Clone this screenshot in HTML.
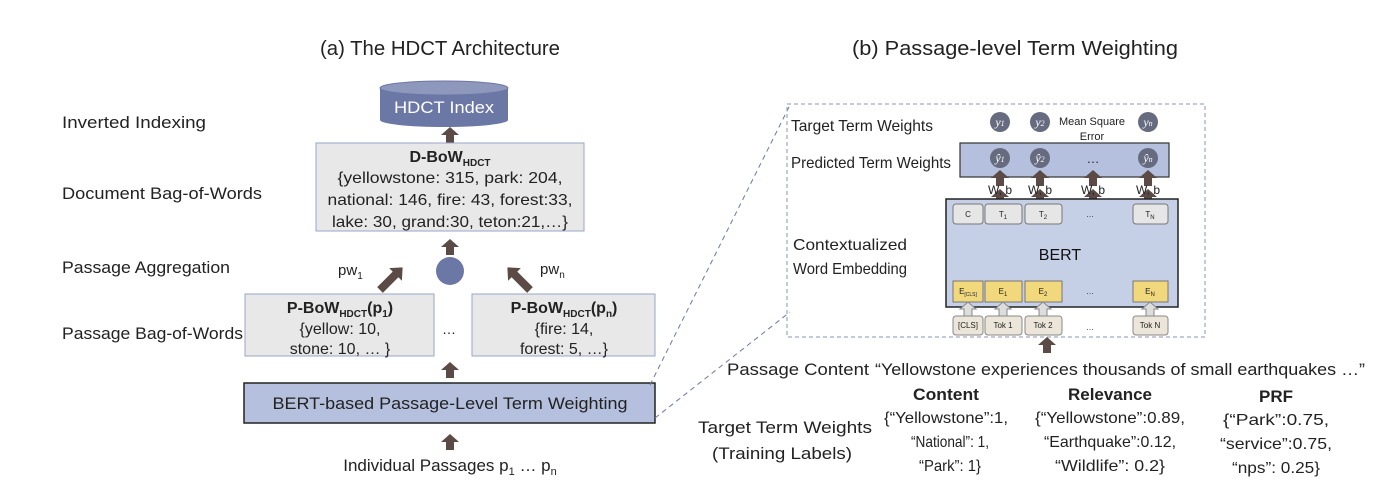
<!DOCTYPE html>
<html><head><meta charset="utf-8"><style>
html,body{margin:0;padding:0;background:#fff;}
svg{display:block;font-family:"Liberation Sans",sans-serif;}
</style></head><body>
<svg width="1400" height="495" viewBox="0 0 1400 495" xmlns="http://www.w3.org/2000/svg">
<defs>
<g id="up"><polygon points="-4,0 4,0 4,-8 9,-8 0,-16 -9,-8 -4,-8" fill="#5b4a45"/></g>
<g id="upw"><polygon points="-4,0 4,0 4,-7 8,-7 0,-14 -8,-7 -4,-7" fill="#ddd" stroke="#888" stroke-width="1"/></g>
</defs>
<!-- Titles -->
<text x="440" y="55" font-size="20" text-anchor="middle" fill="#222" textLength="240" lengthAdjust="spacingAndGlyphs">(a) The HDCT Architecture</text>
<text x="1015" y="55" font-size="20" text-anchor="middle" fill="#222" textLength="326" lengthAdjust="spacingAndGlyphs">(b) Passage-level Term Weighting</text>
<!-- left labels -->
<g font-size="17" fill="#222">
<text x="62" y="128" textLength="144" lengthAdjust="spacingAndGlyphs">Inverted Indexing</text>
<text x="62" y="199" textLength="200" lengthAdjust="spacingAndGlyphs">Document Bag-of-Words</text>
<text x="62" y="273" textLength="168" lengthAdjust="spacingAndGlyphs">Passage Aggregation</text>
<text x="62" y="339" textLength="181" lengthAdjust="spacingAndGlyphs">Passage Bag-of-Words</text>
</g>
<!-- cylinder -->
<path d="M380,88 L380,120 A64,7 0 0 0 508,120 L508,88 Z" fill="#6b77a5"/>
<ellipse cx="444" cy="88" rx="64" ry="7" fill="#8e98bd" stroke="#6b77a5"/>
<text x="444" y="113" font-size="17" fill="#fff" text-anchor="middle" textLength="100" lengthAdjust="spacingAndGlyphs">HDCT Index</text>
<use href="#up" x="450" y="143"/>
<!-- D-BoW -->
<rect x="316" y="143" width="268" height="88" fill="#e8e8e8" stroke="#99a6c9"/>
<text x="450" y="162" font-size="16" font-weight="bold" text-anchor="middle" fill="#222">D-BoW<tspan font-size="10" dy="4">HDCT</tspan></text>
<g font-size="16" fill="#222" text-anchor="middle">
<text x="450" y="183" textLength="225" lengthAdjust="spacingAndGlyphs">{yellowstone: 315, park: 204,</text>
<text x="450" y="205" textLength="245" lengthAdjust="spacingAndGlyphs">national: 146, fire: 43, forest:33,</text>
<text x="450" y="227" textLength="236" lengthAdjust="spacingAndGlyphs">lake: 30, grand:30, teton:21,…}</text>
</g>
<use href="#up" x="450" y="255"/>
<circle cx="450" cy="271" r="14" fill="#6b77a5"/>
<g transform="translate(380,290) rotate(45)"><polygon points="-4,0 4,0 4,-22 9,-22 0,-32 -9,-22 -4,-22" fill="#5b4a45"/></g>
<g transform="translate(530,290) rotate(-45)"><polygon points="-4,0 4,0 4,-22 9,-22 0,-32 -9,-22 -4,-22" fill="#5b4a45"/></g>
<text x="338" y="275" font-size="15" fill="#222">pw<tspan font-size="10" dy="4">1</tspan></text>
<text x="540" y="274" font-size="15" fill="#222">pw<tspan font-size="10" dy="4">n</tspan></text>
<!-- P-BoW boxes -->
<rect x="245" y="294" width="189" height="62" fill="#e8e8e8" stroke="#99a6c9"/>
<text x="340" y="313" font-size="16" font-weight="bold" text-anchor="middle" fill="#222">P-BoW<tspan font-size="10" dy="4">HDCT</tspan><tspan dy="-4">(p</tspan><tspan font-size="10" dy="4">1</tspan><tspan dy="-4">)</tspan></text>
<text x="340" y="334" font-size="16" text-anchor="middle" fill="#222">{yellow: 10,</text>
<text x="340" y="354" font-size="16" text-anchor="middle" fill="#222">stone: 10, … }</text>
<text x="449" y="334" font-size="14" text-anchor="middle" fill="#222">…</text>
<rect x="472" y="294" width="183" height="62" fill="#e8e8e8" stroke="#99a6c9"/>
<text x="564" y="313" font-size="16" font-weight="bold" text-anchor="middle" fill="#222">P-BoW<tspan font-size="10" dy="4">HDCT</tspan><tspan dy="-4">(p</tspan><tspan font-size="10" dy="4">n</tspan><tspan dy="-4">)</tspan></text>
<text x="564" y="334" font-size="16" text-anchor="middle" fill="#222">{fire: 14,</text>
<text x="564" y="354" font-size="16" text-anchor="middle" fill="#222">forest: 5, …}</text>
<use href="#up" x="450" y="378"/>
<rect x="244" y="383" width="411" height="40" fill="#b5c0de" stroke="#222" stroke-width="1.5"/>
<text x="450" y="409" font-size="17" text-anchor="middle" fill="#222" textLength="355" lengthAdjust="spacingAndGlyphs">BERT-based Passage-Level Term Weighting</text>
<use href="#up" x="450" y="450"/>
<text x="450" y="471" font-size="17" text-anchor="middle" fill="#222">Individual Passages p<tspan font-size="11" dy="4">1</tspan><tspan dy="-4"> … p</tspan><tspan font-size="11" dy="4">n</tspan></text>
<!-- zoom lines -->
<line x1="650" y1="385" x2="790" y2="105" stroke="#6b77a5" stroke-dasharray="5,4"/>
<line x1="655" y1="418" x2="790" y2="312" stroke="#6b77a5" stroke-dasharray="5,4"/>
<!-- right dashed box -->
<rect x="787" y="104" width="418" height="233" fill="none" stroke="#8a94b8" stroke-dasharray="4,3"/>
<g font-size="16" fill="#222">
<text x="791" y="131" textLength="142" lengthAdjust="spacingAndGlyphs">Target Term Weights</text>
<text x="791" y="168" textLength="160" lengthAdjust="spacingAndGlyphs">Predicted Term Weights</text>
<text x="793" y="250" textLength="114" lengthAdjust="spacingAndGlyphs">Contextualized</text>
<text x="793" y="274" textLength="114" lengthAdjust="spacingAndGlyphs">Word Embedding</text>
</g>
<g fill="#666b7f">
<circle cx="1000" cy="122" r="10"/><circle cx="1040" cy="122" r="10"/><circle cx="1148" cy="122" r="10"/>
</g>
<g font-size="12" fill="#fff" font-style="italic" font-family="Liberation Serif,serif" text-anchor="middle">
<text x="1000" y="126">y<tspan font-size="8">1</tspan></text><text x="1040" y="126">y<tspan font-size="8">2</tspan></text><text x="1148" y="126">y<tspan font-size="8">n</tspan></text>
</g>
<text x="1092" y="125" font-size="11" fill="#222" text-anchor="middle">Mean Square</text>
<text x="1092" y="140" font-size="11" fill="#222" text-anchor="middle">Error</text>
<rect x="960" y="143" width="209" height="34" fill="#b5c0de" stroke="#333" stroke-width="1.2"/>
<g fill="#666b7f"><circle cx="1000" cy="158" r="10"/><circle cx="1040" cy="158" r="10"/><circle cx="1148" cy="158" r="10"/></g>
<g font-size="12" fill="#fff" font-style="italic" font-family="Liberation Serif,serif" text-anchor="middle">
<text x="1000" y="162">ŷ<tspan font-size="8">1</tspan></text><text x="1040" y="162">ŷ<tspan font-size="8">2</tspan></text><text x="1148" y="162">ŷ<tspan font-size="8">n</tspan></text>
</g>
<text x="1093" y="163" font-size="13" text-anchor="middle" fill="#222">…</text>
<g>
<use href="#up" x="1000" y="186"/><use href="#up" x="1040" y="186"/><use href="#up" x="1093" y="186"/><use href="#up" x="1148" y="186"/>
<use href="#up" x="1000" y="205"/><use href="#up" x="1040" y="205"/><use href="#up" x="1093" y="205"/><use href="#up" x="1148" y="205"/>
</g>
<g font-size="12" fill="#222" text-anchor="middle">
<text x="1000" y="194">W, b</text><text x="1040" y="194">W, b</text><text x="1093" y="194">W, b</text><text x="1148" y="194">W, b</text>
</g>
<rect x="946" y="199" width="232" height="108" fill="#c5cfe6" stroke="#222" stroke-width="1.5"/>
<g fill="#e6e6e6" stroke="#777">
<rect x="953" y="204" width="30" height="20" rx="3"/><rect x="985" y="204" width="37" height="20" rx="3"/><rect x="1025" y="204" width="37" height="20" rx="3"/><rect x="1133" y="204" width="35" height="20" rx="3"/>
</g>
<g font-size="8" fill="#222" text-anchor="middle">
<text x="968" y="217">C</text><text x="1003" y="217">T<tspan font-size="6" dy="2">1</tspan></text><text x="1043" y="217">T<tspan font-size="6" dy="2">2</tspan></text><text x="1090" y="217">…</text><text x="1150" y="217">T<tspan font-size="6" dy="2">N</tspan></text>
</g>
<text x="1060" y="260" font-size="16" fill="#111" text-anchor="middle">BERT</text>
<g fill="#f1d87c" stroke="#777">
<rect x="953" y="281" width="30" height="21"/><rect x="985" y="281" width="37" height="21"/><rect x="1025" y="281" width="37" height="21"/><rect x="1133" y="281" width="35" height="21"/>
</g>
<g font-size="8" fill="#222" text-anchor="middle">
<text x="968" y="294">E<tspan font-size="5" dy="2">[CLS]</tspan></text><text x="1003" y="294">E<tspan font-size="6" dy="2">1</tspan></text><text x="1043" y="294">E<tspan font-size="6" dy="2">2</tspan></text><text x="1090" y="294">…</text><text x="1150" y="294">E<tspan font-size="6" dy="2">N</tspan></text>
</g>
<use href="#upw" x="968" y="316"/><use href="#upw" x="1003" y="316"/><use href="#upw" x="1043" y="316"/><use href="#upw" x="1150" y="316"/>
<g fill="#ebe6d9" stroke="#888">
<rect x="953" y="316" width="30" height="19" rx="3"/><rect x="985" y="316" width="37" height="19" rx="3"/><rect x="1025" y="316" width="37" height="19" rx="3"/><rect x="1133" y="316" width="35" height="19" rx="3"/>
</g>
<g font-size="8" fill="#222" text-anchor="middle">
<text x="968" y="328">[CLS]</text><text x="1003" y="328">Tok 1</text><text x="1043" y="328">Tok 2</text><text x="1090" y="330">…</text><text x="1150" y="328">Tok N</text>
</g>
<use href="#up" x="1047" y="353"/>
<!-- bottom right text -->
<g font-size="17" fill="#222">
<text x="727" y="375" textLength="142" lengthAdjust="spacingAndGlyphs">Passage Content</text>
<text x="875" y="375" textLength="490" lengthAdjust="spacingAndGlyphs">“Yellowstone experiences thousands of small earthquakes …”</text>
<text x="698" y="433" textLength="174" lengthAdjust="spacingAndGlyphs">Target Term Weights</text>
<text x="712" y="459" textLength="140" lengthAdjust="spacingAndGlyphs">(Training Labels)</text>
</g>
<g font-size="17" font-weight="bold" fill="#222" text-anchor="middle">
<text x="946" y="400" textLength="66" lengthAdjust="spacingAndGlyphs">Content</text><text x="1110" y="400" textLength="84" lengthAdjust="spacingAndGlyphs">Relevance</text><text x="1276" y="402" textLength="34" lengthAdjust="spacingAndGlyphs">PRF</text>
</g>
<g font-size="16" fill="#222" text-anchor="middle">
<text x="946" y="423" textLength="124" lengthAdjust="spacingAndGlyphs">{“Yellowstone”:1,</text>
<text x="950" y="447" textLength="78" lengthAdjust="spacingAndGlyphs">“National”: 1,</text>
<text x="950" y="471" textLength="62" lengthAdjust="spacingAndGlyphs">“Park”: 1}</text>
<text x="1110" y="423" textLength="150" lengthAdjust="spacingAndGlyphs">{“Yellowstone”:0.89,</text>
<text x="1110" y="447" textLength="132" lengthAdjust="spacingAndGlyphs">“Earthquake”:0.12,</text>
<text x="1110" y="471" textLength="110" lengthAdjust="spacingAndGlyphs">“Wildlife”: 0.2}</text>
<text x="1276" y="425" textLength="106" lengthAdjust="spacingAndGlyphs">{“Park”:0.75,</text>
<text x="1276" y="449" textLength="112" lengthAdjust="spacingAndGlyphs">“service”:0.75,</text>
<text x="1276" y="473" textLength="88" lengthAdjust="spacingAndGlyphs">“nps”: 0.25}</text>
</g>
</svg>
</body></html>
